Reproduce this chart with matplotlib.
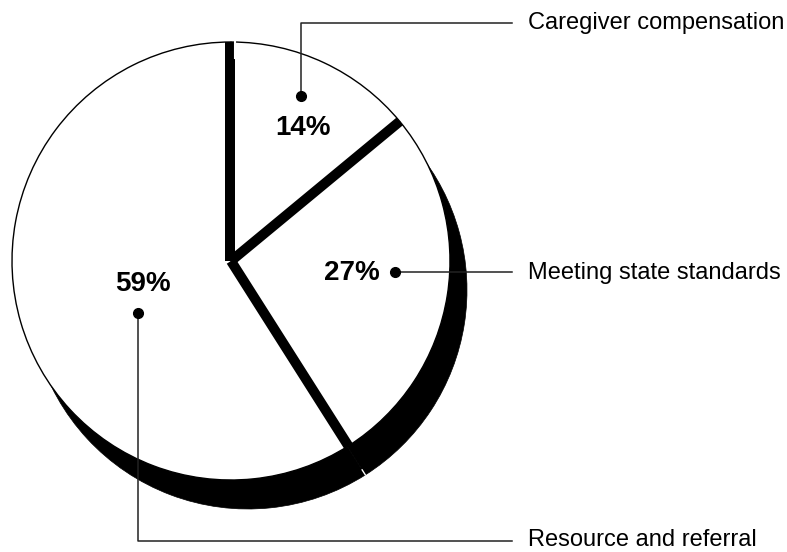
import numpy as np
import matplotlib.pyplot as plt

# data
categories = ["Caregiver compensation", "Meeting state standards", "Resource and referral"]
shares = [14, 27, 59]
pct_labels = ["14%", "27%", "59%"]

W, H = 787, 552


def py(y):
    # pixel row -> data y (y axis points up)
    return H - y


cx, cy, R = 231, py(261), 219
shadow_dx, shadow_dy = 17, 29

plt.rcParams["font.family"] = ["Liberation Sans", "DejaVu Sans"]

fig = plt.figure(figsize=(W / 100, H / 100), dpi=100)
ax = fig.add_axes([0, 0, 1, 1])

# shadow pie, offset down-right
ax.pie(shares, startangle=90, counterclock=False, radius=R,
       center=(cx + shadow_dx, cy - shadow_dy), colors=["black"] * len(shares),
       wedgeprops=dict(edgecolor="black", linewidth=0.5))

# white pie on top
ax.pie(shares, startangle=90, counterclock=False, radius=R, center=(cx, cy),
       colors=["white"] * len(shares),
       wedgeprops=dict(edgecolor="black", linewidth=1.0))

# thick separators between slices
bounds = 90 - 360 * np.concatenate([[0], np.cumsum(shares)[:-1]]) / 100.0
for i, a in enumerate(bounds):
    t = np.deg2rad(a)
    x0 = cx - 1 if i == 0 else cx
    ax.plot([x0, x0 + R * np.cos(t)], [cy, cy + R * np.sin(t)],
            color="black", lw=7.2, solid_capstyle="butt", zorder=5)
# thin gap beside the vertical separator
ax.plot([cx + 4, cx + 4], [py(42), py(58)], color="white", lw=1.5, zorder=6)

# small white notch in the shadow below the last separator
t = np.deg2rad(bounds[2])
sx, sy = cx + shadow_dx + R * np.cos(t), cy - shadow_dy + R * np.sin(t)
ax.plot([sx, sx - 3 * np.cos(t) * 2], [sy, sy - 3 * np.sin(t) * 2],
        color="white", lw=1.0, zorder=4)

# percent labels
pct_pos = [(303, 128), (352, 273), (143, 284)]
for lab, (x, y) in zip(pct_labels, pct_pos):
    ax.text(x, py(y), lab, ha="center", va="center", fontsize=20,
            fontweight="bold", color="black", zorder=7)

# leader lines with dots
leaders = [
    [(301, 96), (301, 23), (512, 23)],
    [(395, 272), (512, 272)],
    [(138, 313), (138, 541), (512, 541)],
]
text_y = [23, 273, 540]
for cat, pts, ty in zip(categories, leaders, text_y):
    xs = [p[0] for p in pts]
    ys = [py(p[1]) for p in pts]
    ax.plot(xs, ys, color="#222222", lw=1.1, zorder=7)
    ax.plot(xs[0], ys[0], "o", color="black", ms=7, zorder=8)
    ax.text(528, py(ty), cat, ha="left", va="center", fontsize=17,
            color="black", zorder=7)

ax.set_xlim(0, W)
ax.set_ylim(0, H)
ax.set_aspect("equal")
ax.axis("off")

fig.savefig("out.png", dpi=100, facecolor="white")
